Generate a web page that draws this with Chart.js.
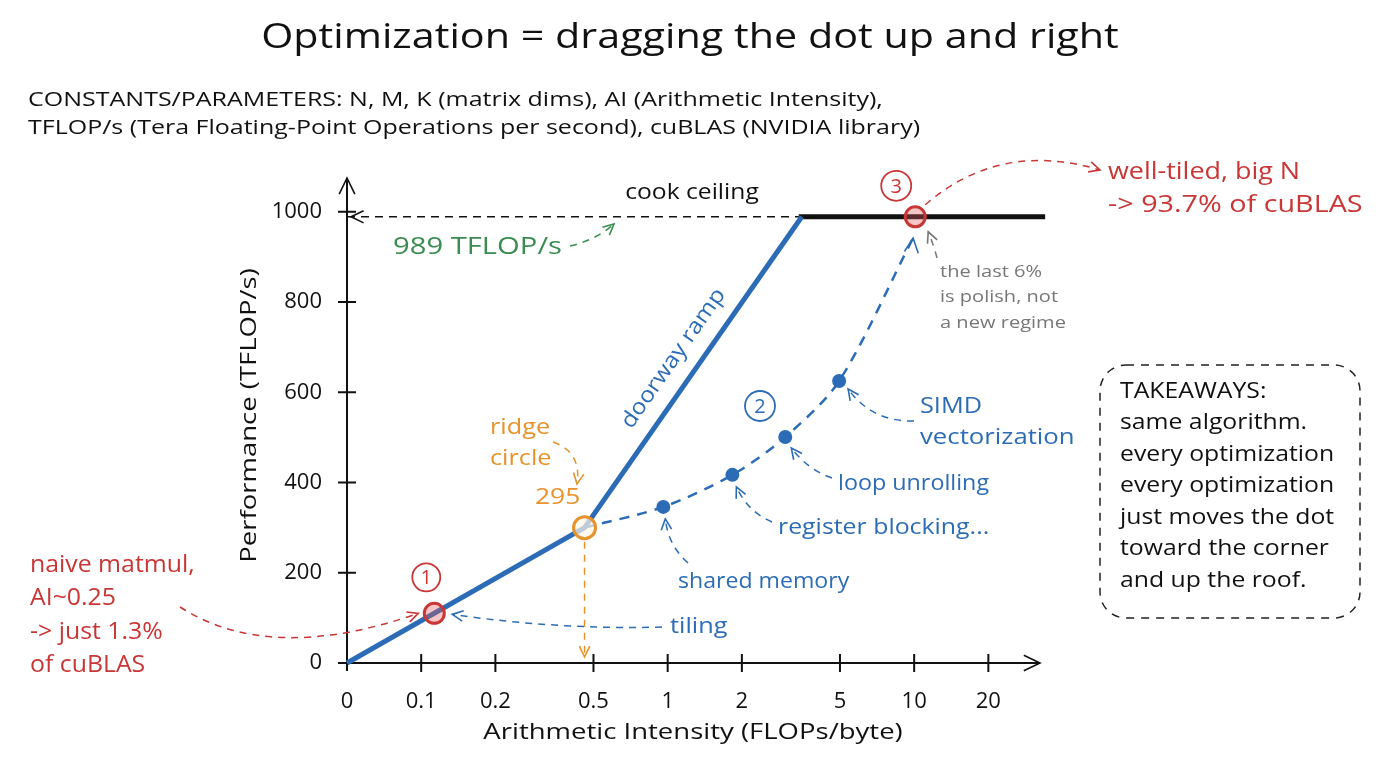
<!DOCTYPE html>
<html>
<head>
<meta charset="utf-8">
<script src="https://cdn.jsdelivr.net/npm/chart.js@4.4.1/dist/chart.umd.min.js"></script>
<style>
  html, body { margin: 0; background: #fff; }
  #wrap { position: relative; width: 1376px; height: 768px; }
</style>
</head>
<body>
<div id="wrap"><canvas id="roof" width="1376" height="768"></canvas></div>
<script>
// --- data ---
const xTickValues = [0.05, 0.1, 0.2, 0.5, 1, 2, 5, 10, 20];
const xTickLabels = ['0', '0.1', '0.2', '0.5', '1', '2', '5', '10', '20'];
const yTickValues = [0, 200, 400, 600, 800, 1000];

const roofAI = [0.05, 0.46, 3.5];        // memory-bound ramp
const roofPerf = [0, 300, 989];
const ceilingAI = [3.4, 34];             // compute ceiling
const ceilingPerf = [989, 989];
const guideAI = [0.05, 3.5];             // dashed 989 guide
const guidePerf = [989, 989];

const optAI = [0.46, 0.96, 1.83, 3.0, 4.96, 9.9];
const optPerf = [300, 346, 417, 501, 625, 942];
const optDot = [0, 1, 1, 1, 1, 0];

const naive = { ai: 0.113, perf: 110 };
const ridge = { ai: 0.46, perf: 300 };
const tuned = { ai: 10.1, perf: 989 };

const takeaways = ['TAKEAWAYS:', 'same algorithm.', 'every optimization', 'every optimization',
  'just moves the dot', 'toward the corner', 'and up the roof.'];

const FONT = '"Open Sans", sans-serif';
const BLUE = '#2c6cb6', RED = '#c93636', ORANGE = '#e8922c', GREEN = '#3a8c50', GRAY = '#777';

const pts = (xs, ys) => xs.map((x, i) => ({ x, y: ys[i] }));

// --- drawing helpers ---
function arrowHead(ctx, x, y, ang, color, size) {
  size = size || 12;
  ctx.save();
  ctx.strokeStyle = color; ctx.lineWidth = 1.6; ctx.setLineDash([]);
  ctx.beginPath();
  ctx.moveTo(x - size * Math.cos(ang - 0.45), y - size * Math.sin(ang - 0.45));
  ctx.lineTo(x, y);
  ctx.lineTo(x - size * Math.cos(ang + 0.45), y - size * Math.sin(ang + 0.45));
  ctx.stroke();
  ctx.restore();
}
function curveArrow(ctx, x0, y0, cx, cy, x1, y1, color) {
  ctx.save();
  ctx.strokeStyle = color; ctx.lineWidth = 1.5; ctx.setLineDash([7, 6]);
  ctx.beginPath(); ctx.moveTo(x0, y0); ctx.quadraticCurveTo(cx, cy, x1, y1); ctx.stroke();
  ctx.restore();
  arrowHead(ctx, x1, y1, Math.atan2(y1 - cy, x1 - cx), color);
}
// sx stretches text sideways, the hand lettering is wider than any installed font
function text(ctx, s, x, y, color, size, align, sx) {
  ctx.save();
  ctx.fillStyle = color; ctx.font = size + 'px ' + FONT;
  ctx.textAlign = align || 'left'; ctx.textBaseline = 'middle';
  ctx.translate(x, y); ctx.scale(sx || 1.15, 1);
  ctx.fillText(s, 0, 0);
  ctx.restore();
}
function circled(ctx, n, x, y, r, color) {
  ctx.save();
  ctx.strokeStyle = color; ctx.lineWidth = 1.8;
  ctx.beginPath(); ctx.arc(x, y, r, 0, Math.PI * 2); ctx.stroke();
  ctx.restore();
  text(ctx, n, x, y + 1, color, 20, 'center', 1);
}

const notes = {
  id: 'notes',
  beforeDatasetsDraw(chart) {
    const { ctx, scales: { x, y } } = chart;
    const x0 = x.getPixelForValue(xTickValues[0]), y0 = y.getPixelForValue(0);
    ctx.save();
    ctx.strokeStyle = '#111'; ctx.lineWidth = 2; ctx.setLineDash([]);
    ctx.beginPath();
    ctx.moveTo(x0, y0 + 8); ctx.lineTo(x0, y.top);
    ctx.moveTo(x0 - 6, y0); ctx.lineTo(x.right, y0);
    yTickValues.forEach(v => { const p = y.getPixelForValue(v); ctx.moveTo(x0 - 9, p); ctx.lineTo(x0 + 9, p); });
    xTickValues.slice(1).forEach(v => { const p = x.getPixelForValue(v); ctx.moveTo(p, y0 - 9); ctx.lineTo(p, y0 + 9); });
    ctx.stroke();
    ctx.restore();
    arrowHead(ctx, x0, y.top, -Math.PI / 2, '#111', 18);
    arrowHead(ctx, x.right, y0, 0, '#111', 18);
  },
  afterDatasetsDraw(chart) {
    const { ctx, scales: { x, y } } = chart;
    const P = (ai, perf) => ({ px: x.getPixelForValue(ai), py: y.getPixelForValue(perf) });
    const x0 = x.getPixelForValue(xTickValues[0]);

    // axis titles
    text(ctx, 'Arithmetic Intensity (FLOPs/byte)', 693, 733, '#111', 22, 'center', 1.25);
    ctx.save();
    ctx.translate(250, (y.top + y.bottom) / 2 - 5);
    ctx.rotate(-Math.PI / 2);
    text(ctx, 'Performance (TFLOP/s)', 0, 0, '#111', 22, 'center', 1.25);
    ctx.restore();

    // ceiling guide
    const gy = y.getPixelForValue(guidePerf[0]);
    arrowHead(ctx, x0 + 4, gy, Math.PI, '#111', 14);
    text(ctx, 'cook ceiling', 692, 193, '#111', 22, 'center', 1.12);
    text(ctx, '989 TFLOP/s', 393, 247, GREEN, 23, 'left', 1.27);
    curveArrow(ctx, 570, 246, 596, 240, 614, 224, GREEN);

    // ramp label
    const r0 = P(roofAI[1], roofPerf[1]), r1 = P(roofAI[2], roofPerf[2]);
    const ang = Math.atan2(r1.py - r0.py, r1.px - r0.px);
    const mx = (r0.px + r1.px) / 2, my = (r0.py + r1.py) / 2;
    ctx.save();
    ctx.translate(mx + 24 * Math.sin(ang), my - 24 * Math.cos(ang));
    ctx.rotate(ang);
    text(ctx, 'doorway ramp', 0, 0, BLUE, 22, 'center', 1.1);
    ctx.restore();

    // ridge
    const rg = P(ridge.ai, ridge.perf);
    text(ctx, 'ridge', 490, 428, ORANGE, 22);
    text(ctx, 'circle', 490, 459, ORANGE, 22);
    text(ctx, '295', 535, 498, ORANGE, 22, 'left', 1.2);
    curveArrow(ctx, 553, 442, 582, 452, 577, 484, ORANGE);
    ctx.save();
    ctx.strokeStyle = ORANGE; ctx.lineWidth = 1.5; ctx.setLineDash([7, 6]);
    ctx.beginPath(); ctx.moveTo(rg.px, rg.py + 14); ctx.lineTo(rg.px, y.bottom - 6); ctx.stroke();
    ctx.restore();
    arrowHead(ctx, rg.px, y.bottom - 6, Math.PI / 2, ORANGE);

    // point 1
    const p1 = P(naive.ai, naive.perf);
    circled(ctx, '1', p1.px - 8, p1.py - 36, 14, RED);
    ['naive matmul,', 'AI~0.25', '-> just 1.3%', 'of cuBLAS'].forEach((s, i) =>
      text(ctx, s, 30, 565 + i * 33.5, RED, 23, 'left', 1.08));
    curveArrow(ctx, 180, 607, 270, 665, p1.px - 16, p1.py, RED);
    text(ctx, 'tiling', 670, 627, BLUE, 22);
    curveArrow(ctx, 662, 627, 560, 630, p1.px + 18, p1.py + 1, BLUE);

    // optimisation steps
    const d = optAI.map((a, i) => P(a, optPerf[i]));
    text(ctx, 'shared memory', 678, 582, BLUE, 22, 'left', 1.05);
    curveArrow(ctx, 688, 563, 668, 545, d[1].px + 2, d[1].py + 12, BLUE);
    text(ctx, 'register blocking...', 778, 528, BLUE, 22, 'left', 1.13);
    curveArrow(ctx, 772, 522, 748, 512, d[2].px + 4, d[2].py + 12, BLUE);
    text(ctx, 'loop unrolling', 838, 484, BLUE, 22, 'left', 1.06);
    curveArrow(ctx, 832, 478, 808, 470, d[3].px + 6, d[3].py + 11, BLUE);
    text(ctx, 'SIMD', 920, 407, BLUE, 22);
    text(ctx, 'vectorization', 920, 438, BLUE, 22, 'left', 1.17);
    curveArrow(ctx, 914, 421, 872, 422, d[4].px + 9, d[4].py + 8, BLUE);
    circled(ctx, '2', 760, 406, 15, BLUE);
    const e = d[d.length - 1];
    arrowHead(ctx, e.px, e.py, Math.atan2(-1, 0.12), BLUE, 16);

    // point 3
    const p3 = P(tuned.ai, tuned.perf);
    circled(ctx, '3', p3.px - 19, p3.py - 31, 15, RED);
    text(ctx, 'well-tiled, big N', 1108, 172, RED, 23, 'left', 1.17);
    text(ctx, '-> 93.7% of cuBLAS', 1108, 205, RED, 23, 'left', 1.25);
    curveArrow(ctx, p3.px + 10, p3.py - 12, 1000, 140, 1100, 170, RED);
    ['the last 6%', 'is polish, not', 'a new regime'].forEach((s, i) =>
      text(ctx, s, 940, 272 + i * 25.5, GRAY, 17, 'left', 1.18));
    curveArrow(ctx, 937, 258, 934, 246, p3.px + 13, p3.py + 15, GRAY);

    // takeaways box
    ctx.save();
    ctx.strokeStyle = '#222'; ctx.lineWidth = 1.5; ctx.setLineDash([8, 7]);
    ctx.beginPath(); ctx.roundRect(1100, 365, 260, 253, 26); ctx.stroke();
    ctx.restore();
    takeaways.forEach((s, i) => text(ctx, s, 1120, 392 + i * 31.5, '#111', 21, 'left', 1.18));

    // headings
    text(ctx, 'Optimization = dragging the dot up and right', 690, 38, '#111', 35, 'center', 1.18);
    text(ctx, 'CONSTANTS/PARAMETERS: N, M, K (matrix dims), AI (Arithmetic Intensity),', 28, 100, '#111', 20, 'left', 1.25);
    text(ctx, 'TFLOP/s (Tera Floating-Point Operations per second), cuBLAS (NVIDIA library)', 28, 128, '#111', 20, 'left', 1.25);
  }
};

new Chart(document.getElementById('roof'), {
  type: 'line',
  data: {
    datasets: [
      { data: [naive, tuned].map(p => ({ x: p.ai, y: p.perf })), showLine: false,
        pointRadius: 10, borderWidth: 3, pointBorderColor: RED, pointBackgroundColor: 'rgba(230,90,90,0.35)' },
      { data: [{ x: ridge.ai, y: ridge.perf }], showLine: false,
        pointRadius: 11, borderWidth: 3, pointBorderColor: ORANGE, pointBackgroundColor: 'rgba(255,245,230,0.7)' },
      { data: pts(optAI, optPerf), borderColor: BLUE, borderWidth: 2.5, borderDash: [10, 8],
        tension: 0.3, pointRadius: optDot.map(v => v * 7), pointBackgroundColor: BLUE, pointBorderWidth: 0 },
      { data: pts(roofAI, roofPerf), borderColor: BLUE, borderWidth: 5, pointRadius: 0 },
      { data: pts(ceilingAI, ceilingPerf), borderColor: '#111', borderWidth: 5, pointRadius: 0 },
      { data: pts(guideAI, guidePerf), borderColor: '#111', borderWidth: 1.5, borderDash: [8, 6], pointRadius: 0 }
    ]
  },
  options: {
    responsive: false,
    animation: false,
    clip: false,
    layout: { padding: { left: 0, top: 178, right: 336, bottom: 0 } },
    plugins: { legend: { display: false }, tooltip: { enabled: false } },
    scales: {
      x: {
        type: 'logarithmic', min: 0.05, max: 32.4,
        grid: { display: false }, border: { display: false },
        afterBuildTicks: s => { s.ticks = xTickValues.map(v => ({ value: v })); },
        afterFit: s => { s.height = 105; },
        ticks: { color: '#111', font: { family: FONT, size: 22 }, padding: 18, maxRotation: 0, autoSkip: false,
          callback: v => xTickLabels[xTickValues.indexOf(v)] }
      },
      y: {
        min: 0, max: 1075,
        grid: { display: false }, border: { display: false },
        afterBuildTicks: s => { s.ticks = yTickValues.map(v => ({ value: v })); },
        afterFit: s => { s.width = 347; },
        ticks: { color: '#111', font: { family: FONT, size: 22 }, padding: 17, callback: v => String(v) }
      }
    }
  },
  plugins: [notes]
});
</script>
</body>
</html>
